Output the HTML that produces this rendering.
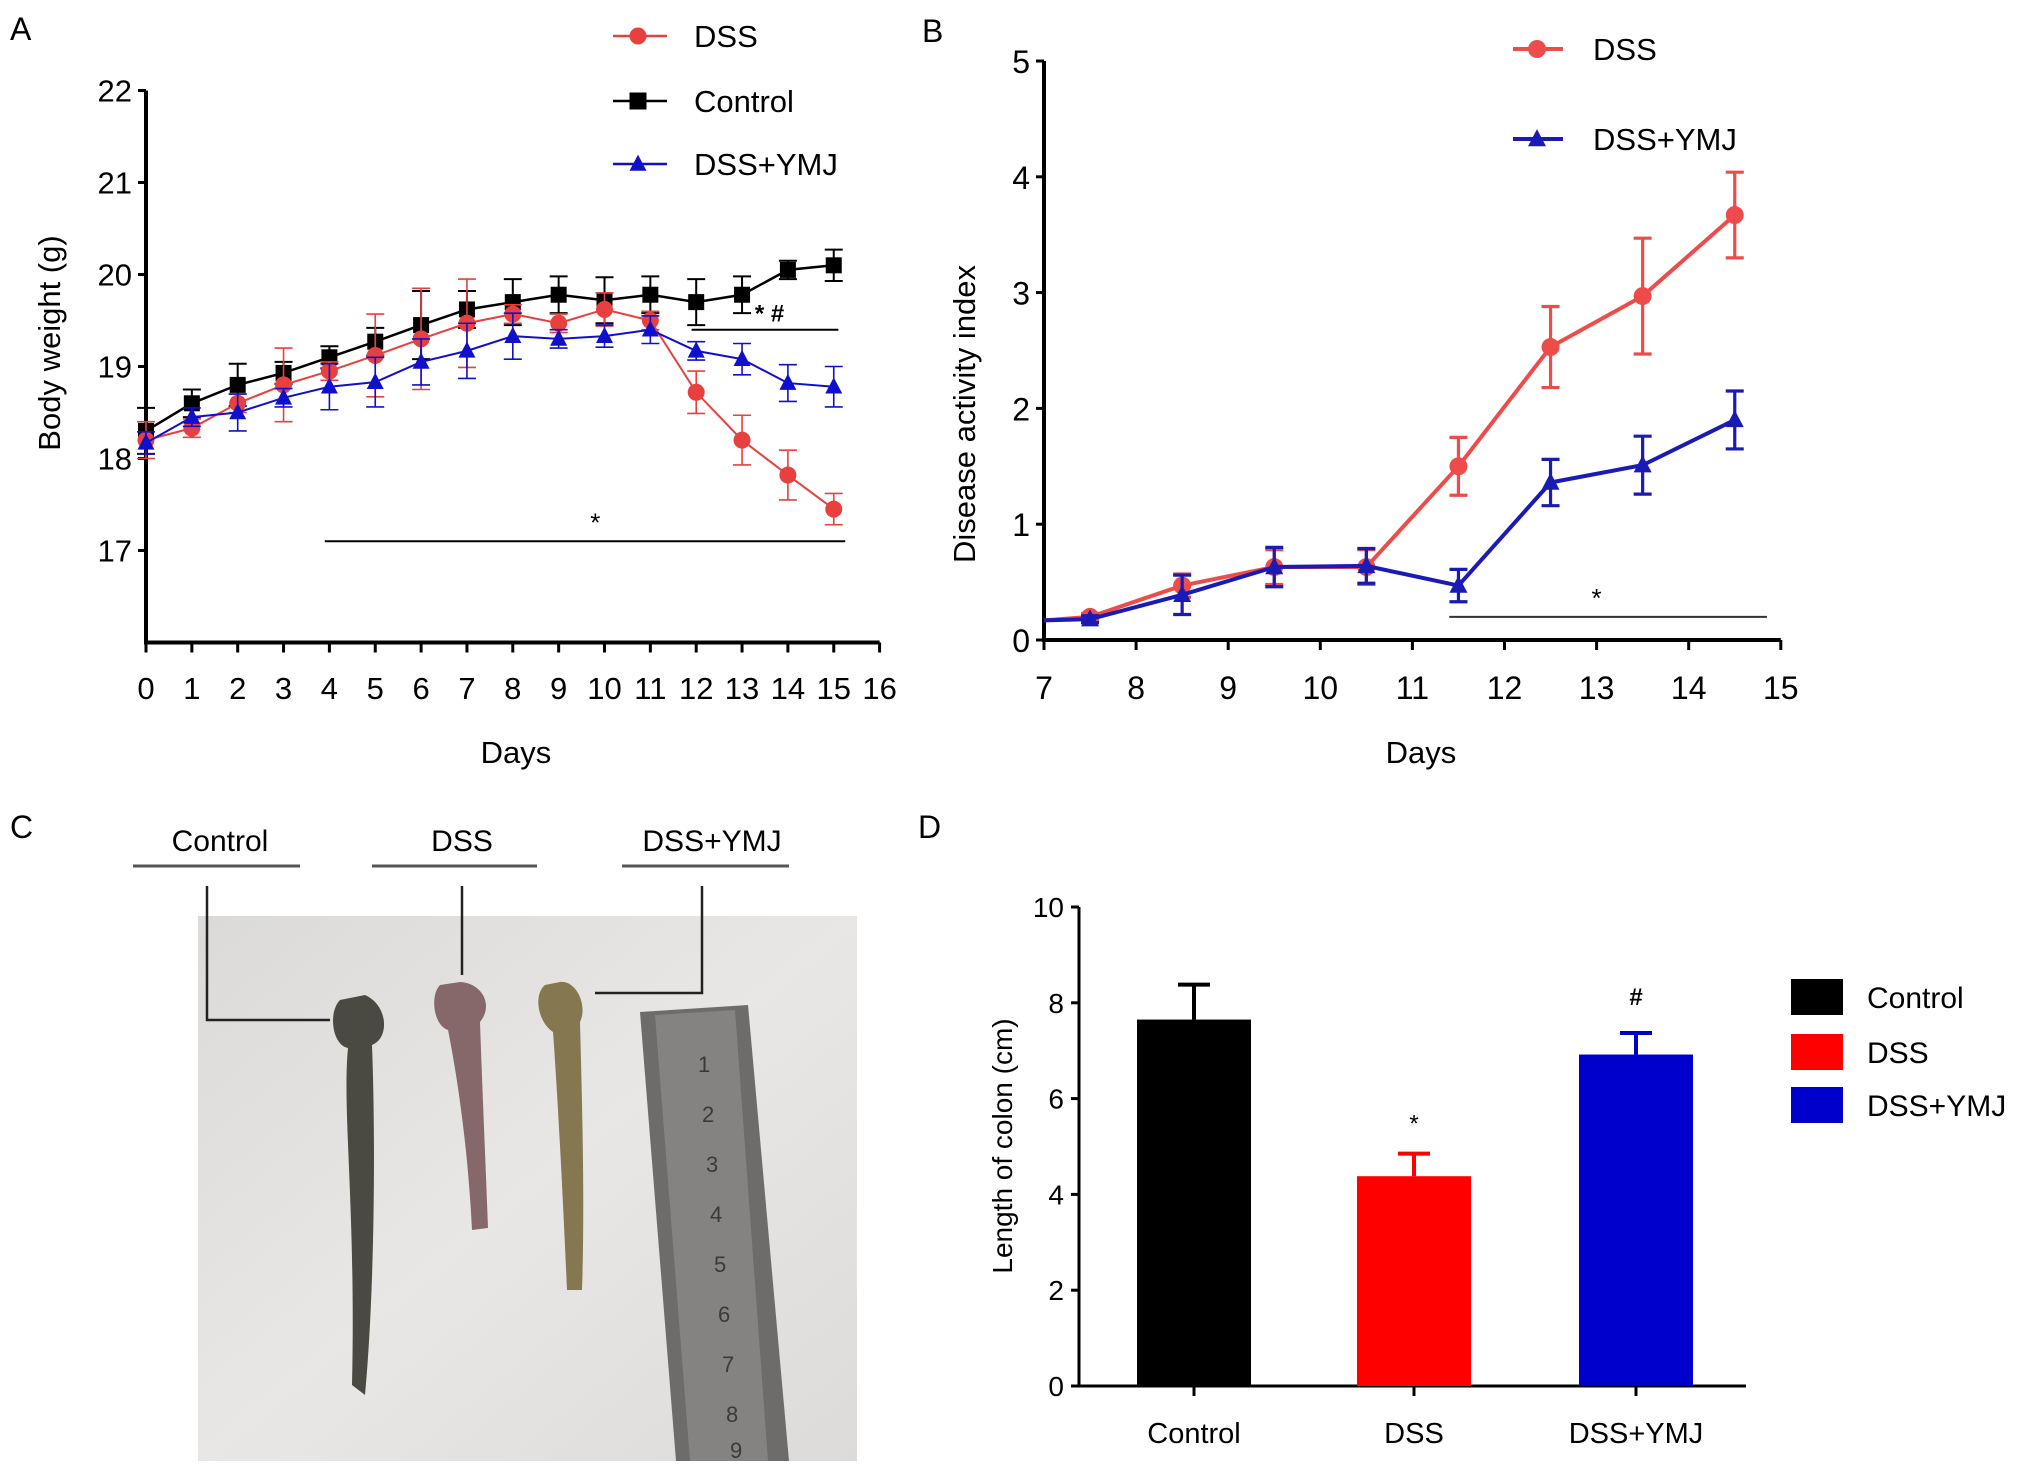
<!DOCTYPE html>
<html><head><meta charset="utf-8"><style>
html,body{margin:0;padding:0;background:#fff;}
svg{display:block;font-family:"Liberation Sans",Arial,sans-serif;}
</style></head><body>
<svg id="fig" width="2031" height="1474" viewBox="0 0 2031 1474" xmlns="http://www.w3.org/2000/svg">
<defs>
<linearGradient id="photoBg" x1="0" y1="0" x2="1" y2="1">
<stop offset="0" stop-color="#dcdad8"/><stop offset="0.5" stop-color="#e9e7e5"/><stop offset="1" stop-color="#dddbd9"/>
</linearGradient>
</defs>
<g id="panelA"></g>
<g id="panelB"></g>
<g id="panelC">
<text x="10" y="838" font-size="32">C</text>
<text x="220" y="851" font-size="30" text-anchor="middle">Control</text>
<text x="462" y="851" font-size="30" text-anchor="middle">DSS</text>
<text x="712" y="851" font-size="30" text-anchor="middle">DSS+YMJ</text>
<g stroke="#555" stroke-width="3">
<line x1="133" y1="866" x2="300" y2="866"/><line x1="372" y1="866" x2="537" y2="866"/><line x1="622" y1="866" x2="789" y2="866"/>
</g>
<rect x="198" y="916" width="659" height="545" fill="url(#photoBg)"/>
<polygon points="640,1012 748,1005 789,1461 676,1461" fill="#6e6c6a"/>
<polygon points="655,1015 735,1010 768,1461 690,1461" fill="#858381"/>
<g fill="#3a3a3a" font-size="22">
<text x="698" y="1072">1</text><text x="702" y="1122">2</text><text x="706" y="1172">3</text><text x="710" y="1222">4</text><text x="714" y="1272">5</text><text x="718" y="1322">6</text><text x="722" y="1372">7</text><text x="726" y="1422">8</text><text x="730" y="1458">9</text>
</g>
<path d="M340,1000 C328,1012 332,1045 348,1048 C342,1110 356,1210 352,1385 L365,1395 C374,1300 376,1150 372,1045 C390,1038 388,1005 365,995 Z" fill="#4a4a42"/>
<path d="M440,985 C430,995 433,1025 448,1030 C458,1080 468,1150 472,1230 L488,1228 C485,1150 482,1080 480,1022 C494,1005 482,983 460,982 Z" fill="#86686a"/>
<path d="M545,985 C533,995 538,1022 553,1032 C558,1100 563,1200 567,1290 L582,1290 C585,1200 582,1100 580,1022 C588,1005 576,980 560,982 Z" fill="#85774f"/>
<g stroke="#222" stroke-width="2.5" fill="none">
<polyline points="207,886 207,1020 330,1020"/><polyline points="462,886 462,975"/><polyline points="702,886 702,993 595,993"/>
</g>
</g>
<g id="panelD"></g>
</svg>
<script>
// ---------- Panel A data ----------
const daysA = [0,1,2,3,4,5,6,7,8,9,10,11,12,13,14,15];
const ctrlA = [18.3,18.6,18.8,18.93,19.1,19.27,19.45,19.62,19.7,19.78,19.72,19.78,19.7,19.78,20.05,20.1];
const ctrlErrA = [0.25,0.15,0.23,0.12,0.12,0.15,0.37,0.2,0.25,0.2,0.25,0.2,0.25,0.2,0.1,0.17];
const dssA = [18.2,18.33,18.6,18.8,18.95,19.12,19.3,19.47,19.57,19.47,19.62,19.5,18.72,18.2,17.82,17.45];
const dssErrA = [0.2,0.1,0.1,0.4,0.1,0.45,0.55,0.48,0.1,0.1,0.18,0.1,0.23,0.27,0.27,0.17];
const ymjA = [18.17,18.45,18.5,18.66,18.78,18.83,19.05,19.17,19.33,19.3,19.33,19.4,19.17,19.08,18.82,18.78];
const ymjErrA = [0.12,0.1,0.2,0.1,0.25,0.27,0.25,0.3,0.25,0.1,0.12,0.15,0.1,0.17,0.2,0.22];
const xTicksA = [0,1,2,3,4,5,6,7,8,9,10,11,12,13,14,15,16];
const yTicksA = [17,18,19,20,21,22];
// ---------- Panel B data ----------
const daysB = [7,7.5,8.5,9.5,10.5,11.5,12.5,13.5,14.5];
const dssB = [0.17,0.2,0.47,0.63,0.63,1.5,2.53,2.97,3.67];
const dssErrB = [0,0.03,0.1,0.15,0.15,0.25,0.35,0.5,0.37];
const ymjB = [0.17,0.18,0.39,0.63,0.64,0.47,1.36,1.51,1.9];
const ymjErrB = [0,0.03,0.17,0.17,0.15,0.14,0.2,0.25,0.25];
const xTicksB = [7,8,9,10,11,12,13,14,15];
const yTicksB = [0,1,2,3,4,5];
// ---------- Panel D data ----------
const groupsD = ["Control","DSS","DSS+YMJ"];
const lengthD = [7.65,4.38,6.92];
const lengthErrD = [0.73,0.47,0.45];
const yTicksD = [0,2,4,6,8,10];

const NS="http://www.w3.org/2000/svg";
function mk(parent,tag,attrs,text){const e=document.createElementNS(NS,tag);for(const k in attrs)e.setAttribute(k,attrs[k]);if(text!==undefined)e.textContent=text;parent.appendChild(e);return e;}

function marker(g,shape,x,y,s,color){
  let e;
  if(shape==='circle') e=mk(g,'circle',{cx:x,cy:y,r:s,fill:color});
  else if(shape==='square') e=mk(g,'rect',{x:x-s,y:y-s,width:2*s,height:2*s,fill:color});
  else e=mk(g,'polygon',{points:`${x},${y-s*1.1} ${x-s},${y+s*0.8} ${x+s},${y+s*0.8}`,fill:color});
  return e;
}

function series(g,xs,ys,errs,X,Y,color,shape,size,lw,cap,name,skipFirst){
  const sg=mk(g,'g',{});
  
  
  xs.forEach((d,i)=>{
    if(!errs[i])return;
    const eb=mk(sg,'path',{d:`M${X(d)},${Y(ys[i]-errs[i])}V${Y(ys[i]+errs[i])}M${X(d)-cap},${Y(ys[i]-errs[i])}h${2*cap}M${X(d)-cap},${Y(ys[i]+errs[i])}h${2*cap}`,stroke:color,'stroke-width':lw*0.8,fill:'none'});
    
    
  });
  const ln=mk(sg,'polyline',{points:xs.map((d,i)=>X(d)+','+Y(ys[i])).join(' '),stroke:color,'stroke-width':lw,fill:'none'});
  
  
  xs.forEach((d,i)=>{
    if(i===0 && skipFirst) return;
    const m=marker(sg,shape,X(d),Y(ys[i]),size,color);
    
    
  });
}

// ===== Panel A =====
(function(){
  const g=document.getElementById('panelA');
  const X=d=>146+d*45.85, Y=v=>550.5-(v-17)*92;
  mk(g,'text',{x:10,y:40,'font-size':32},'A');
  const ax=mk(g,'path',{d:`M146,${Y(22)}V${Y(16)}H${X(16)}`,stroke:'#000','stroke-width':4,fill:'none'});
  
  
  yTicksA.forEach(v=>{
    mk(g,'line',{x1:138,y1:Y(v),x2:146,y2:Y(v),stroke:'#000','stroke-width':3});
    const t=mk(g,'text',{x:132,y:Y(v)+11,'font-size':31,'text-anchor':'end'},v);
    
    
  });
  xTicksA.forEach(d=>{
    mk(g,'line',{x1:X(d),y1:Y(16),x2:X(d),y2:Y(16)+10,stroke:'#000','stroke-width':3});
    const t=mk(g,'text',{x:X(d),y:699,'font-size':31,'text-anchor':'middle'},d);
    
    
  });
  const xt=mk(g,'text',{x:516,y:763,'font-size':31,'text-anchor':'middle'},'Days');
  
  
  const yt=mk(g,'text',{x:0,y:0,'font-size':31,'text-anchor':'middle',transform:'translate(60,343) rotate(-90)'},'Body weight (g)');
  
  
  mk(g,'line',{x1:X(3.9),y1:Y(17.1),x2:X(15.25),y2:Y(17.1),stroke:'#000','stroke-width':2});
  mk(g,'text',{x:X(9.8),y:Y(17.1)-10,'font-size':26,'text-anchor':'middle'},'*');
  mk(g,'line',{x1:X(11.9),y1:Y(19.4),x2:X(15.1),y2:Y(19.4),stroke:'#000','stroke-width':2});
  mk(g,'text',{x:X(13.6),y:Y(19.4)-8,'font-size':24,'text-anchor':'middle','font-weight':'bold'},'* #');
  series(g,daysA,ctrlA,ctrlErrA,X,Y,'#000','square',8,2.5,9,'control-series-a',false);
  series(g,daysA,dssA,dssErrA,X,Y,'#e8403f','circle',8.5,2,9,'dss-series-a',false);
  series(g,daysA,ymjA,ymjErrA,X,Y,'#1010cc','triangle',8.5,2,9,'dss-ymj-series-a',false);
  const leg=[['DSS','#e8403f','circle',36],['Control','#000','square',101],['DSS+YMJ','#1010cc','triangle',164]];
  leg.forEach(l=>{
    const lg=mk(g,'g',{});
    
    
    mk(lg,'line',{x1:613,y1:l[3],x2:667,y2:l[3],stroke:l[1],'stroke-width':2.5});
    marker(lg,l[2],638,l[3],8.5,l[1]);
    mk(lg,'text',{x:694,y:l[3]+11,'font-size':31},l[0]);
  });
})();

// ===== Panel B =====
(function(){
  const g=document.getElementById('panelB');
  const X=d=>1044+(d-7)*92.1, Y=v=>640-v*115.8;
  mk(g,'text',{x:922,y:42,'font-size':32},'B');
  const ax=mk(g,'path',{d:`M1044,${Y(5)}V${Y(0)}H${X(15)}`,stroke:'#000','stroke-width':4,fill:'none'});
  
  
  yTicksB.forEach(v=>{
    mk(g,'line',{x1:1036,y1:Y(v),x2:1044,y2:Y(v),stroke:'#000','stroke-width':3});
    const t=mk(g,'text',{x:1030,y:Y(v)+12,'font-size':32,'text-anchor':'end'},v);
    
    
  });
  xTicksB.forEach(d=>{
    mk(g,'line',{x1:X(d),y1:Y(0),x2:X(d),y2:Y(0)+10,stroke:'#000','stroke-width':3});
    const t=mk(g,'text',{x:X(d),y:699,'font-size':32,'text-anchor':'middle'},d);
    
    
  });
  const xt=mk(g,'text',{x:1421,y:763,'font-size':31,'text-anchor':'middle'},'Days');
  
  
  const yt=mk(g,'text',{x:0,y:0,'font-size':31,'text-anchor':'middle',transform:'translate(975,414) rotate(-90)'},'Disease activity index');
  
  
  mk(g,'line',{x1:X(11.4),y1:Y(0.2),x2:X(14.85),y2:Y(0.2),stroke:'#333','stroke-width':2});
  mk(g,'text',{x:X(13),y:Y(0.2)-10,'font-size':26,'text-anchor':'middle'},'*');
  series(g,daysB,dssB,dssErrB,X,Y,'#ee4b4b','circle',9,4,9,'dss-series-b',true);
  series(g,daysB,ymjB,ymjErrB,X,Y,'#1a1ab4','triangle',9,4,9,'dss-ymj-series-b',true);
  const leg=[['DSS','#ee4b4b','circle',49],['DSS+YMJ','#1a1ab4','triangle',139]];
  leg.forEach(l=>{
    const lg=mk(g,'g',{});
    
    
    mk(lg,'line',{x1:1513,y1:l[3],x2:1563,y2:l[3],stroke:l[1],'stroke-width':4});
    marker(lg,l[2],1537,l[3],9,l[1]);
    mk(lg,'text',{x:1593,y:l[3]+11,'font-size':31},l[0]);
  });
})();

// ===== Panel D =====
(function(){
  const g=document.getElementById('panelD');
  const colors=['#000','#ff0000','#0000cc'];
  const cx=[1194,1414,1636];
  const Y=v=>1386-v*47.9;
  mk(g,'text',{x:918,y:838,'font-size':32},'D');
  const ax=mk(g,'path',{d:`M1079,${Y(10)}V${Y(0)}H1746`,stroke:'#000','stroke-width':3,fill:'none'});
  
  
  yTicksD.forEach(v=>{
    mk(g,'line',{x1:1071,y1:Y(v),x2:1079,y2:Y(v),stroke:'#000','stroke-width':3});
    const t=mk(g,'text',{x:1064,y:Y(v)+10,'font-size':28,'text-anchor':'end'},v);
    
    
  });
  const yt=mk(g,'text',{x:0,y:0,'font-size':28,'text-anchor':'middle',transform:'translate(1012,1146) rotate(-90)'},'Length of colon (cm)');
  
  
  groupsD.forEach((gr,i)=>{
    const top=Y(lengthD[i]), et=Y(lengthD[i]+lengthErrD[i]);
    const eb=mk(g,'path',{d:`M${cx[i]},${top}V${et}M${cx[i]-16},${et}h32`,stroke:colors[i],'stroke-width':4,fill:'none'});
    
    
    const b=mk(g,'rect',{x:cx[i]-57,y:top,width:114,height:Y(0)-top,fill:colors[i]});
    
    
    mk(g,'line',{x1:cx[i],y1:Y(0),x2:cx[i],y2:Y(0)+10,stroke:'#000','stroke-width':3});
    const t=mk(g,'text',{x:cx[i],y:1443,'font-size':29,'text-anchor':'middle'},gr);
    
    
  });
  mk(g,'text',{x:cx[1],y:Y(lengthD[1]+lengthErrD[1])-22,'font-size':24,'text-anchor':'middle'},'*');
  mk(g,'text',{x:cx[2],y:Y(lengthD[2]+lengthErrD[2])-28,'font-size':24,'text-anchor':'middle','font-weight':'bold'},'#');
  const ly=[997,1052,1105];
  groupsD.forEach((gr,i)=>{
    const lg=mk(g,'g',{});
    
    
    mk(lg,'rect',{x:1791,y:ly[i]-18,width:52,height:36,fill:colors[i]});
    mk(lg,'text',{x:1867,y:ly[i]+11,'font-size':30},gr);
  });
})();
</script>
</body></html>
